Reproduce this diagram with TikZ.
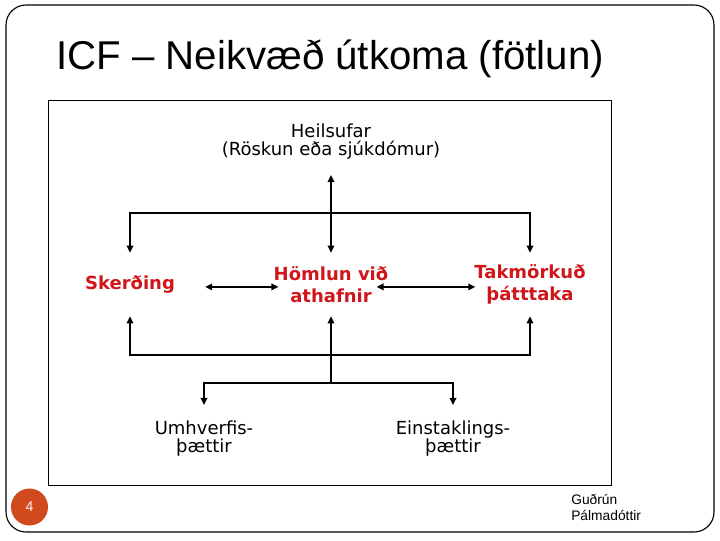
\documentclass[tikz,border=0pt]{standalone}
\usepackage{fontspec}
\setmainfont{Liberation Sans}
\newfontfamily\diafont{DejaVu Sans}
\usepackage{tikz}
\usetikzlibrary{arrows.meta,positioning,calc}
\usepackage{xcolor}
\definecolor{icfred}{RGB}{208,22,26}
\definecolor{slidenum}{RGB}{208,74,30}

\begin{document}
\begin{tikzpicture}[
  x=0.025cm, y=-0.025cm,
  lbl/.style={font=\diafont\fontsize{12.8}{12.5}\selectfont, align=center, inner sep=11pt},
  comp/.style={font=\diafont\bfseries\fontsize{12.8}{15.5}\selectfont, text=icfred, align=center,
    inner xsep=0pt, inner ysep=0pt, minimum height=1.575cm},
  arr/.style={-{Triangle[length=5pt,width=4.6pt]}, line width=1.35pt},
  arr2/.style={{Triangle[length=5pt,width=4.6pt]}-{Triangle[length=5pt,width=4.6pt]}, line width=1.35pt}
]
\useasboundingbox (0,0) rectangle (720,540);
% slide frame
\draw[line width=0.8pt, rounded corners=0.5cm] (6,5) rectangle (714,532);
\draw[line width=0.7pt] (48,100) rectangle (611,485);
\node[anchor=base west, inner sep=0pt, font=\fontsize{28.6}{34}\selectfont] (title) at (56,69) {ICF -- Neikvæð útkoma (fötlun)};

% nodes
\node[lbl, anchor=south] (heil) at (331,175) {Heilsufar\\(Röskun eða sjúkdómur)};
\node[comp] (sker) at (130,284.5) {Skerðing};
\node[comp] (hom) at (331,284.5) {Hömlun við\\athafnir};
\node[comp] (tak) at (530,284.5) {Takmörkuð\\þátttaka};
\node[lbl, anchor=north] (umh) at (204,405) {Umhverfis-\\þættir};
\node[lbl, anchor=north] (ein) at (453,405) {Einstaklings-\\þættir};
\coordinate (topbar) at (331,213);
\coordinate (botbar) at (331,355);
\coordinate (fork) at (331,383);

% connectors
\draw[arr2] (heil) -- (hom);
\draw[arr] (topbar) -| (sker);
\draw[arr] (topbar) -| (tak);
\draw[arr2, shorten <=0.75cm, shorten >=-0.125cm] ([yshift=-0.06cm]sker.east) -- ([yshift=-0.06cm]hom.west);
\draw[arr2, shorten <=-0.3cm, shorten >=-0.03cm] ([yshift=-0.06cm]hom.east) -- ([yshift=-0.06cm]tak.west);
\draw[arr] (botbar) -| (sker);
\draw[arr] (botbar) -| (tak);
\draw[arr] (fork) -- (hom);
\draw[arr] (fork) -| (umh);
\draw[arr] (fork) -| (ein);

% footer
\node[circle, fill=slidenum, minimum size=0.925cm, inner sep=0pt, text=white!95!red,
  font=\fontsize{10}{12}\selectfont] (num) at (29.5,507) {4};
\node[anchor=north west, align=left, inner sep=0pt, font=\fontsize{9.8}{11.3}\selectfont] (auth) at (571,494) {Guðrún\\Pálmadóttir};
\end{tikzpicture}
\end{document}
